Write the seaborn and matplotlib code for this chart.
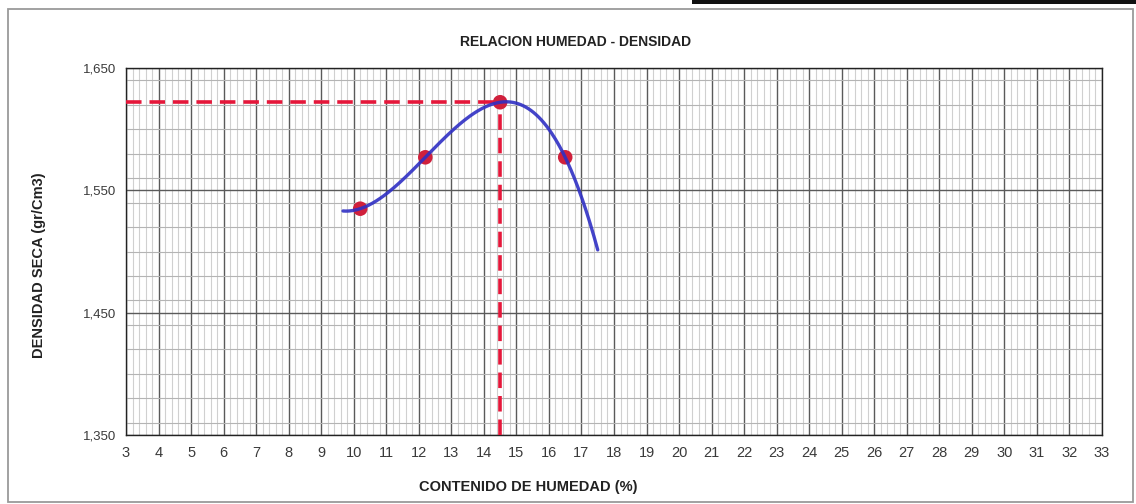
import numpy as np
import pandas as pd
import matplotlib
matplotlib.use("Agg")
import matplotlib.pyplot as plt
from matplotlib.patches import Rectangle
from matplotlib.ticker import MultipleLocator, FixedLocator, FixedFormatter
import seaborn as sns

# Ensayo Proctor: contenido de humedad (%) y densidad seca (gr/cm3)
humedad = [10.2, 12.2, 14.5, 16.5]
densidad = [1.535, 1.577, 1.622, 1.577]

# Optimo contenido de humedad y maxima densidad seca
humedad_optima = 14.5
densidad_maxima = 1.622

# Rango de la curva de ajuste (polinomio de 3er grado)
curva_desde = 9.67
curva_hasta = 17.5

x_ticks = list(range(3, 34))
y_ticks = [1.350, 1.450, 1.550, 1.650]
y_labels = ["1,350", "1,450", "1,550", "1,650"]

sns.set_style("white")
plt.rcParams["font.family"] = ["Liberation Sans", "DejaVu Sans"]

W, H = 1136, 504
fig = plt.figure(figsize=(W / 100, H / 100), dpi=100)
fig.patch.set_facecolor("white")

def fx(px):
    return px / W

def fy(py):
    return 1 - py / H

ax = fig.add_axes([fx(126), fy(435), fx(1102) - fx(126), fy(68) - fy(435)])

# Curva de compactacion ajustada a los puntos del ensayo
coef = np.polyfit(humedad, densidad, 3)
xs = np.linspace(curva_desde, curva_hasta, 200)
curva = pd.DataFrame({"humedad": xs, "densidad": np.polyval(coef, xs)})
puntos = pd.DataFrame({"humedad": humedad, "densidad": densidad})

ax.set_xlim(3, 33)
ax.set_ylim(1.350, 1.650)

# Cuadricula de papel milimetrado
ax.xaxis.set_major_locator(FixedLocator(x_ticks))
ax.xaxis.set_minor_locator(MultipleLocator(0.2))
ax.yaxis.set_major_locator(FixedLocator(y_ticks))
ax.yaxis.set_major_formatter(FixedFormatter(y_labels))
ax.yaxis.set_minor_locator(MultipleLocator(0.02))
ax.grid(which="major", axis="x", color="#5a5a5a", linewidth=1.0)
ax.grid(which="minor", axis="x", color="#d0d0d0", linewidth=0.8)
ax.grid(which="major", axis="y", color="#5a5a5a", linewidth=1.0)
ax.grid(which="minor", axis="y", color="#b4b4b4", linewidth=0.8)
ax.set_axisbelow(True)

ax.tick_params(axis="both", which="major", direction="out", length=4, width=0.8,
               color="#333333", labelcolor="#3a3a3a")
ax.tick_params(axis="x", which="major", labelsize=10.5, pad=4)
ax.tick_params(axis="y", which="major", labelsize=9.5, pad=3)
ax.tick_params(which="minor", length=0)
for s in ax.spines.values():
    s.set_color("#222222")
    s.set_linewidth(1.0)

# Lineas de referencia del optimo
ax.plot([3, humedad_optima], [densidad_maxima, densidad_maxima], color="#e5173a",
        linewidth=2.6, dashes=(4.3, 2.2), zorder=3)
ax.plot([humedad_optima, humedad_optima], [1.350, densidad_maxima], color="#e5173a",
        linewidth=2.6, dashes=(4.3, 2.2), zorder=3)

sns.scatterplot(data=puntos, x="humedad", y="densidad", ax=ax, s=110,
                color="#d0203c", edgecolor="none", zorder=4)
sns.lineplot(data=curva, x="humedad", y="densidad", ax=ax, color="#2f2fc4",
             linewidth=2.4, zorder=5, alpha=0.9)

ax.set_xlabel("")
ax.set_ylabel("")

# Titulos
fig.text(fx(576), fy(42), "RELACION HUMEDAD - DENSIDAD", ha="center", va="center",
         fontsize=10, fontweight="bold", color="#222222")
fig.text(fx(528), fy(487), "CONTENIDO DE HUMEDAD (%)", ha="center", va="center",
         fontsize=10.5, fontweight="bold", color="#222222")
fig.text(fx(39), fy(265), "DENSIDAD SECA (gr/Cm3)", ha="center", va="center",
         rotation=90, fontsize=10.5, fontweight="bold", color="#222222")

# Marco del grafico
fig.patches.append(Rectangle((fx(8), fy(502)), fx(1133) - fx(8), fy(9) - fy(502),
                             transform=fig.transFigure, fill=False,
                             edgecolor="#9a9a9a", linewidth=1.3))
fig.patches.append(Rectangle((fx(692), fy(4)), fx(1136) - fx(692), fy(0) - fy(4),
                             transform=fig.transFigure, facecolor="#111111",
                             edgecolor="none"))

fig.savefig("out.png", dpi=100, facecolor="white")
